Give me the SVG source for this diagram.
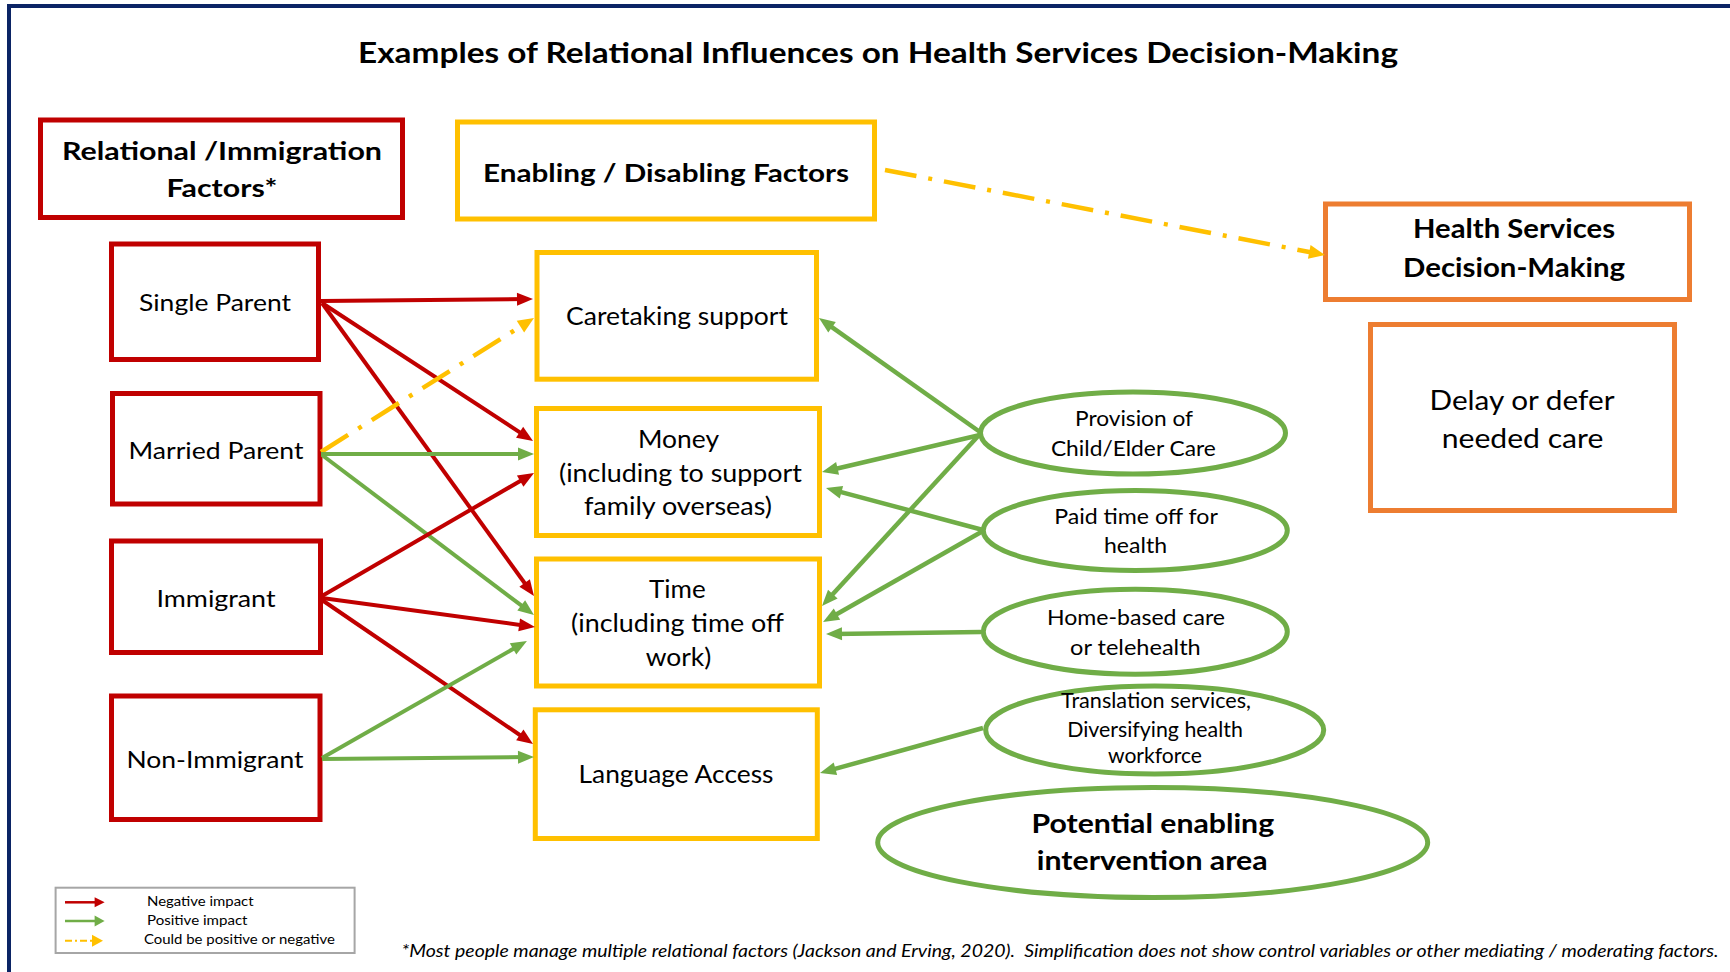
<svg xmlns="http://www.w3.org/2000/svg" width="1730" height="972" viewBox="0 0 1730 972">
  <style>
    .t { font-family: Lato, "Liberation Sans", sans-serif; fill: #000; text-anchor: middle; }
    .b { font-weight: bold; }
    .red { fill: #fff; stroke: #C00000; stroke-width: 5; }
    .yel { fill: #fff; stroke: #FFC000; stroke-width: 5; }
    .org { fill: #fff; stroke: #ED7D31; stroke-width: 5; }
    .grn { fill: #fff; stroke: #70AD47; stroke-width: 5; }
    .neg { stroke: #C00000; stroke-width: 4; fill: none; marker-end: url(#headRed); }
    .pos { stroke: #70AD47; stroke-width: 4; fill: none; marker-end: url(#headGreen); }
    .pos2 { stroke: #70AD47; stroke-width: 4.5; fill: none; marker-end: url(#headGreen); }
    .mix { stroke: #FFC000; stroke-width: 4.5; fill: none; stroke-dasharray: 32 12 4 12; marker-end: url(#headYellow); }
  </style>
  <defs>
    <marker id="headRed" markerUnits="userSpaceOnUse" markerWidth="16" markerHeight="13" refX="8" refY="6.5" orient="auto" overflow="visible">
      <path d="M0,0 L16,6.5 L0,13 Z" fill="#C00000"/>
    </marker>
    <marker id="headGreen" markerUnits="userSpaceOnUse" markerWidth="16" markerHeight="13" refX="8" refY="6.5" orient="auto" overflow="visible">
      <path d="M0,0 L16,6.5 L0,13 Z" fill="#70AD47"/>
    </marker>
    <marker id="headYellow" markerUnits="userSpaceOnUse" markerWidth="16" markerHeight="14" refX="8" refY="7" orient="auto" overflow="visible">
      <path d="M0,0 L16,7 L0,14 Z" fill="#FFC000"/>
    </marker>
    <marker id="keyRed" markerUnits="userSpaceOnUse" markerWidth="10" markerHeight="10" refX="2" refY="5" orient="auto" overflow="visible">
      <path d="M0,0 L10,5 L0,10 Z" fill="#C00000"/>
    </marker>
    <marker id="keyGreen" markerUnits="userSpaceOnUse" markerWidth="10" markerHeight="11" refX="2" refY="5.5" orient="auto" overflow="visible">
      <path d="M0,0 L10,5.5 L0,11 Z" fill="#70AD47"/>
    </marker>
    <marker id="keyYellow" markerUnits="userSpaceOnUse" markerWidth="11" markerHeight="12" refX="1" refY="6" orient="auto" overflow="visible">
      <path d="M0,0 L11,6 L0,12 Z" fill="#FFC000"/>
    </marker>
  </defs>

  <rect width="1730" height="972" fill="#fff"/>
  <!-- slide frame -->
  <path d="M9,972 V6 H1730" fill="none" stroke="#0B2465" stroke-width="4"/>

  <text id="title" class="t b" x="878" y="63" font-size="28.5" textLength="1040" lengthAdjust="spacingAndGlyphs">Examples of Relational Influences on Health Services Decision-Making</text>

  <!-- column headers -->
  <g id="node-relational-header">
    <rect class="red" x="40.5" y="120" width="362" height="97.5"/>
    <text class="t b" x="222" y="160" font-size="25" textLength="320" lengthAdjust="spacingAndGlyphs">Relational /Immigration</text>
    <text class="t b" x="222" y="196.7" font-size="25" textLength="111" lengthAdjust="spacingAndGlyphs">Factors*</text>
  </g>
  <g id="node-enabling-header">
    <rect class="yel" x="457.5" y="122" width="417" height="97"/>
    <text class="t b" x="666" y="181.7" font-size="25" textLength="366" lengthAdjust="spacingAndGlyphs">Enabling / Disabling Factors</text>
  </g>
  <g id="node-health-decision">
    <rect class="org" x="1325.5" y="204" width="364" height="95.5"/>
    <text class="t b" x="1514" y="238" font-size="26" textLength="202" lengthAdjust="spacingAndGlyphs">Health Services</text>
    <text class="t b" x="1514" y="276.7" font-size="26" textLength="222" lengthAdjust="spacingAndGlyphs">Decision-Making</text>
  </g>
  <g id="node-delay">
    <rect class="org" x="1370.5" y="324.5" width="304" height="186"/>
    <text class="t" x="1522" y="410" font-size="27" textLength="185" lengthAdjust="spacingAndGlyphs">Delay or defer</text>
    <text class="t" x="1522.5" y="447.7" font-size="27" textLength="161.6" lengthAdjust="spacingAndGlyphs">needed care</text>
  </g>

  <!-- relational / immigration factors -->
  <g id="node-single-parent">
    <rect class="red" x="111.5" y="244" width="207" height="115.5"/>
    <text class="t" x="215" y="311" font-size="24" textLength="152" lengthAdjust="spacingAndGlyphs">Single Parent</text>
  </g>
  <g id="node-married-parent">
    <rect class="red" x="112.5" y="393.5" width="207.5" height="110.5"/>
    <text class="t" x="216" y="458.7" font-size="24" textLength="175" lengthAdjust="spacingAndGlyphs">Married Parent</text>
  </g>
  <g id="node-immigrant">
    <rect class="red" x="111.5" y="541" width="209" height="111.5"/>
    <text class="t" x="216" y="607" font-size="24" textLength="119" lengthAdjust="spacingAndGlyphs">Immigrant</text>
  </g>
  <g id="node-non-immigrant">
    <rect class="red" x="111.5" y="696" width="208.5" height="123.5"/>
    <text class="t" x="215" y="767.5" font-size="24" textLength="177" lengthAdjust="spacingAndGlyphs">Non-Immigrant</text>
  </g>

  <!-- enabling / disabling factors -->
  <g id="node-caretaking">
    <rect class="yel" x="537" y="252.5" width="279.5" height="126.7"/>
    <text class="t" x="677" y="325" font-size="25" textLength="222" lengthAdjust="spacingAndGlyphs">Caretaking support</text>
  </g>
  <g id="node-money">
    <rect class="yel" x="536.5" y="408.5" width="283" height="127"/>
    <text class="t" x="678.5" y="448" font-size="25" textLength="81" lengthAdjust="spacingAndGlyphs">Money</text>
    <text class="t" x="680.5" y="481.7" font-size="25" textLength="243" lengthAdjust="spacingAndGlyphs">(including to support</text>
    <text class="t" x="678" y="515" font-size="25" textLength="188" lengthAdjust="spacingAndGlyphs">family overseas)</text>
  </g>
  <g id="node-time">
    <rect class="yel" x="536.5" y="559" width="283" height="127"/>
    <text class="t" x="677.4" y="598" font-size="25" textLength="56.7" lengthAdjust="spacingAndGlyphs">Time</text>
    <text class="t" x="677.5" y="631.7" font-size="25" textLength="213" lengthAdjust="spacingAndGlyphs">(including time off</text>
    <text class="t" x="678.5" y="666" font-size="25" textLength="65.7" lengthAdjust="spacingAndGlyphs">work)</text>
  </g>
  <g id="node-language">
    <rect class="yel" x="535.3" y="709.8" width="282" height="128.7"/>
    <text class="t" x="676" y="783" font-size="25" textLength="195" lengthAdjust="spacingAndGlyphs">Language Access</text>
  </g>

  <!-- interventions -->
  <g id="node-provision">
    <ellipse class="grn" cx="1133" cy="433" rx="152.5" ry="41"/>
    <text class="t" x="1134" y="426" font-size="22" textLength="118" lengthAdjust="spacingAndGlyphs">Provision of</text>
    <text class="t" x="1133.4" y="456" font-size="22" textLength="165" lengthAdjust="spacingAndGlyphs">Child/Elder Care</text>
  </g>
  <g id="node-paid-time">
    <ellipse class="grn" cx="1135.3" cy="530.5" rx="152" ry="40"/>
    <text class="t" x="1136" y="524" font-size="22" textLength="163.7" lengthAdjust="spacingAndGlyphs">Paid time off for</text>
    <text class="t" x="1135.5" y="553.3" font-size="22" textLength="63" lengthAdjust="spacingAndGlyphs">health</text>
  </g>
  <g id="node-home-care">
    <ellipse class="grn" cx="1135.3" cy="631.7" rx="152" ry="42.5"/>
    <text class="t" x="1136" y="625" font-size="22" textLength="178" lengthAdjust="spacingAndGlyphs">Home-based care</text>
    <text class="t" x="1135.4" y="655.3" font-size="22" textLength="130.7" lengthAdjust="spacingAndGlyphs">or telehealth</text>
  </g>
  <g id="node-translation">
    <ellipse class="grn" cx="1154.7" cy="730" rx="169" ry="44"/>
    <text class="t" x="1156" y="708.3" font-size="20.5" textLength="190" lengthAdjust="spacingAndGlyphs">Translation services,</text>
    <text class="t" x="1155" y="736.7" font-size="20.5" textLength="175.7" lengthAdjust="spacingAndGlyphs">Diversifying health</text>
    <text class="t" x="1155" y="763.3" font-size="20.5" textLength="94" lengthAdjust="spacingAndGlyphs">workforce</text>
  </g>
  <g id="node-potential">
    <ellipse class="grn" cx="1152.7" cy="842.5" rx="275" ry="55"/>
    <text class="t b" x="1152.8" y="833.3" font-size="27" textLength="242.6" lengthAdjust="spacingAndGlyphs">Potential enabling</text>
    <text class="t b" x="1152.2" y="870" font-size="27" textLength="230.8" lengthAdjust="spacingAndGlyphs">intervention area</text>
  </g>

  <!-- connectors -->
  <g id="connectors">
    <line class="mix" x1="885" y1="170" x2="1317.1" y2="253.5"/>
    <line class="neg" x1="321" y1="301" x2="525" y2="299.1"/>
    <line class="neg" x1="322" y1="303" x2="526.3" y2="436.6"/>
    <line class="neg" x1="322" y1="303" x2="529.3" y2="589.5"/>
    <line class="mix" x1="321" y1="452" x2="527.2" y2="322.3"/>
    <line class="pos" x1="321" y1="454" x2="526" y2="454"/>
    <line class="pos" x1="322" y1="455" x2="527.6" y2="610.2"/>
    <line class="neg" x1="322" y1="596" x2="527.1" y2="477"/>
    <line class="neg" x1="322" y1="598" x2="527.1" y2="625.9"/>
    <line class="neg" x1="322" y1="600" x2="526.4" y2="739.5"/>
    <line class="pos" x1="322" y1="758" x2="520" y2="645"/>
    <line class="pos" x1="322" y1="759" x2="526" y2="757.1"/>
    <line class="pos2" x1="980" y1="432" x2="825.5" y2="322.6"/>
    <line class="pos2" x1="980" y1="435" x2="829.8" y2="470.2"/>
    <line class="pos2" x1="980" y1="434" x2="827.4" y2="600.1"/>
    <line class="pos2" x1="983" y1="530" x2="833.7" y2="490.1"/>
    <line class="pos2" x1="983" y1="531" x2="830" y2="618"/>
    <line class="pos2" x1="981" y1="632" x2="834" y2="633.9"/>
    <line class="pos2" x1="983" y1="728" x2="827.7" y2="770.9"/>
  </g>

  <!-- key -->
  <g id="legend">
    <rect x="55.6" y="887.7" width="299" height="65.3" fill="#fff" stroke="#A6A6A6" stroke-width="2"/>
    <line x1="65" y1="902.3" x2="96.6" y2="902.3" stroke="#C00000" stroke-width="2.5" marker-end="url(#keyRed)"/>
    <line x1="65" y1="921" x2="96.6" y2="921" stroke="#70AD47" stroke-width="2.5" marker-end="url(#keyGreen)"/>
    <line x1="65" y1="940.7" x2="93" y2="940.7" stroke="#FFC000" stroke-width="2" stroke-dasharray="7 3 2 3" marker-end="url(#keyYellow)"/>
    <text class="t" style="text-anchor:start" x="147" y="905.7" font-size="12.5" textLength="106.6" lengthAdjust="spacingAndGlyphs">Negative impact</text>
    <text class="t" style="text-anchor:start" x="147" y="925" font-size="12.5" textLength="100.5" lengthAdjust="spacingAndGlyphs">Positive impact</text>
    <text class="t" style="text-anchor:start" x="143.9" y="944.3" font-size="12.5" textLength="191" lengthAdjust="spacingAndGlyphs">Could be positive or negative</text>
  </g>

  <text id="footnote" class="t" style="text-anchor:start; font-style:italic" x="401.5" y="957" font-size="17" textLength="1317" lengthAdjust="spacingAndGlyphs">*Most people manage multiple relational factors (Jackson and Erving, 2020).&#160; Simplification does not show control variables or other mediating / moderating factors.</text>
</svg>
